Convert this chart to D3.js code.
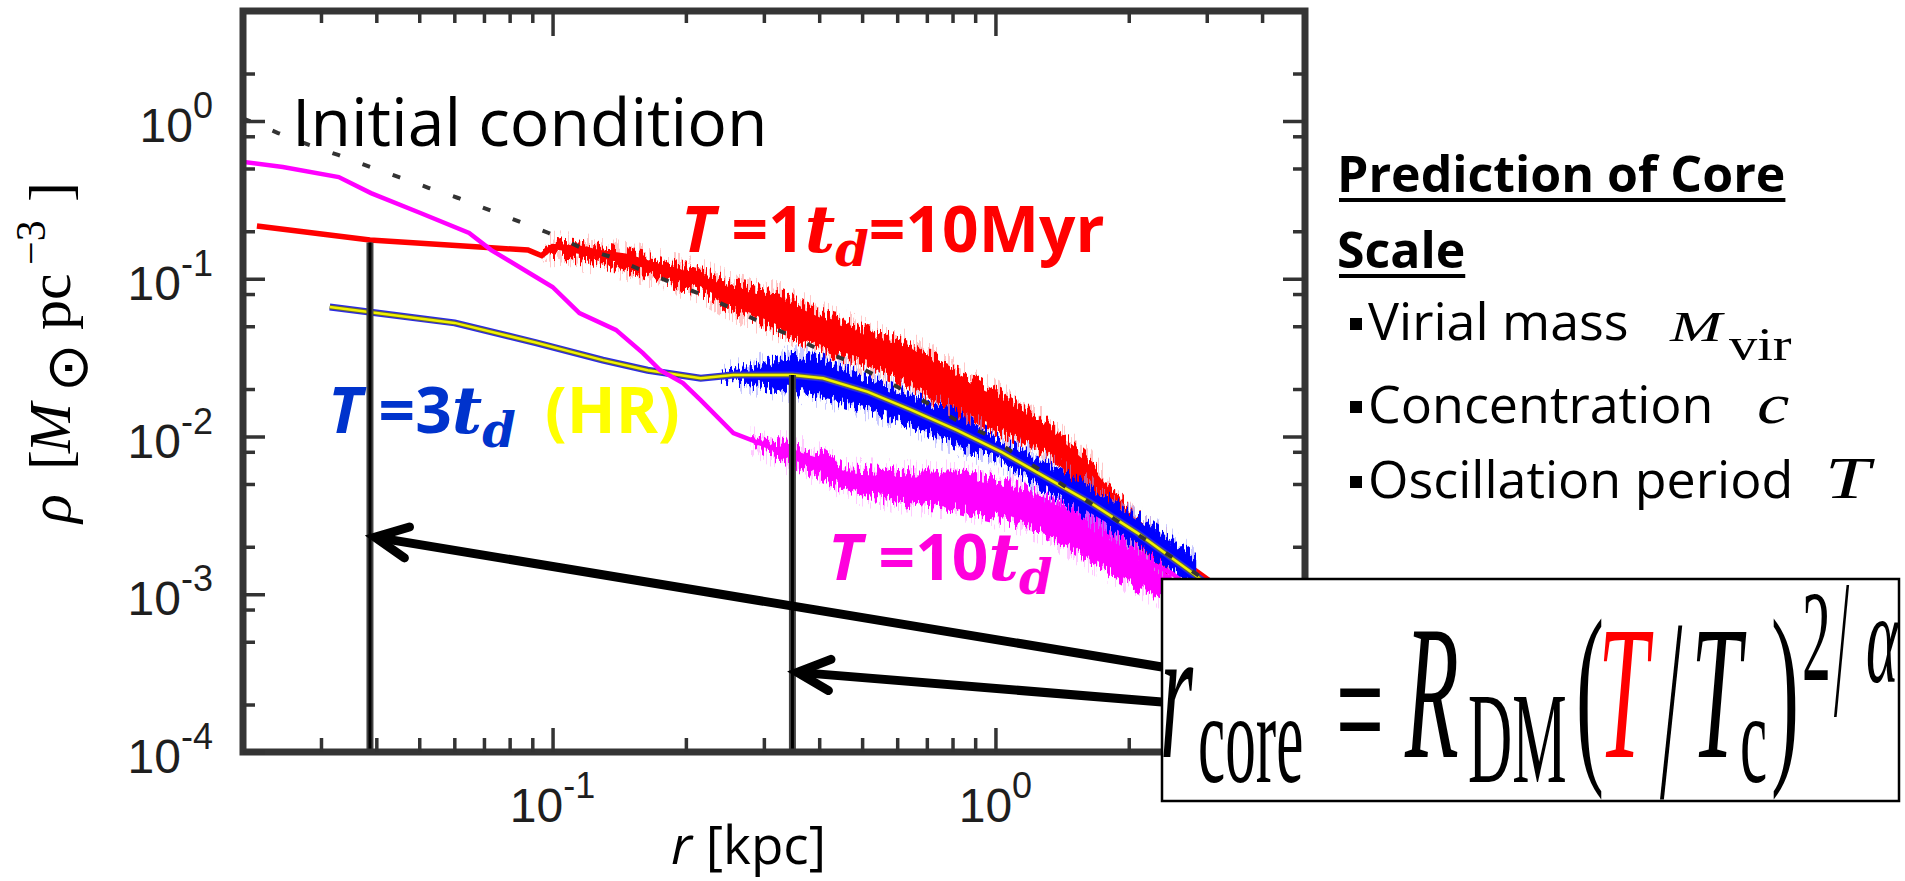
<!DOCTYPE html>
<html><head><meta charset="utf-8">
<script src="https://cdn.jsdelivr.net/npm/d3@7"></script>
<style>html,body{margin:0;padding:0;background:#fff;overflow:hidden}</style>
</head><body>
<svg id="c" width="1905" height="881"></svg>
<script>
// ---------------- data ----------------
const initR   = [0.02, 0.024, 0.0282, 0.0328, 0.0383, 0.045, 0.0526, 0.0612, 0.098, 0.115, 0.136, 0.158, 0.184, 0.213, 0.25, 0.288, 0.334, 0.394, 0.46, 0.534, 0.62, 0.71, 0.816, 0.94, 1.44, 2.62, 3.3];
const initRho = [1.04, 0.839, 0.705, 0.609, 0.518, 0.441, 0.376, 0.325, 0.195, 0.159, 0.137, 0.114, 0.0954, 0.0811, 0.0662, 0.0548, 0.0453, 0.0363, 0.0305, 0.0245, 0.0197, 0.016, 0.0127, 0.0105, 0.0048, 0.00158, 0.0010];

const redR   = [0.0215, 0.0387, 0.0727, 0.088, 0.0945, 0.1, 0.117, 0.128, 0.146, 0.184, 0.216, 0.256, 0.327, 0.408, 0.515, 0.647, 0.816, 1.03, 1.30, 1.64, 1.98, 2.84, 4.0];
const redRho = [0.216, 0.176, 0.157, 0.152, 0.140, 0.16, 0.155, 0.146, 0.139, 0.114, 0.102, 0.0757, 0.0606, 0.0453, 0.0364, 0.0284, 0.0188, 0.0141, 0.0098, 0.005, 0.0029, 0.0014, 0.0007];
const redBandR = [0.095, 0.1, 0.128, 0.16, 0.184, 0.216, 0.256, 0.327, 0.408, 0.515, 0.647, 0.816, 1.03, 1.30, 1.64, 1.98, 2.5];
const redHi    = [0.142, 0.172, 0.159, 0.141, 0.126, 0.114, 0.094, 0.0813, 0.0606, 0.0474, 0.0393, 0.0263, 0.0188, 0.0127, 0.0071, 0.0037, 0.0021];
const redLo    = [0.136, 0.142, 0.124, 0.108, 0.0930, 0.0820, 0.0620, 0.0460, 0.0345, 0.0280, 0.0207, 0.0135, 0.0105, 0.0077, 0.0040, 0.0022, 0.0014];

const hrR   = [0.0314, 0.0601, 0.0915, 0.1299, 0.164, 0.216, 0.256, 0.348, 0.408, 0.515, 0.647, 0.816, 1.03, 1.30, 1.64, 2.09, 2.84, 4.0];
const hrRho = [0.0662, 0.0525, 0.0394, 0.0305, 0.0263, 0.0234, 0.0245, 0.0245, 0.0234, 0.0192, 0.0147, 0.011, 0.0080, 0.0055, 0.0038, 0.00245, 0.00131, 0.0006];
const blueBandR = [0.24, 0.30, 0.348, 0.408, 0.515, 0.647, 0.816, 1.03, 1.30, 1.64, 2.09, 2.84];
const blueHi    = [0.0250, 0.0292, 0.0325, 0.0312, 0.0235, 0.0183, 0.0141, 0.0095, 0.0069, 0.0048, 0.0032, 0.0017];
const blueLo    = [0.0232, 0.0206, 0.0193, 0.0178, 0.0147, 0.0118, 0.0088, 0.0069, 0.0045, 0.0030, 0.0020, 0.0011];

const magR   = [0.02, 0.0246, 0.0329, 0.0389, 0.0503, 0.0648, 0.0727, 0.0915, 0.1, 0.115, 0.139, 0.16, 0.175, 0.197, 0.216, 0.256, 0.337, 0.408, 0.515, 0.647, 0.816, 1.03, 1.30, 1.64, 2.08, 2.49, 3.2];
const magRho = [0.55, 0.511, 0.441, 0.349, 0.261, 0.195, 0.152, 0.103, 0.0887, 0.0606, 0.0474, 0.0338, 0.0263, 0.0218, 0.017, 0.0105, 0.0078, 0.0064, 0.0053, 0.0047, 0.0044, 0.0041, 0.0034, 0.00245, 0.00172, 0.00137, 0.0008];
const magBandR = [0.28, 0.337, 0.408, 0.457, 0.515, 0.647, 0.816, 1.03, 1.30, 1.64, 2.08, 2.5];
const magHi    = [0.0098, 0.0092, 0.0078, 0.0063, 0.0062, 0.0060, 0.0060, 0.0053, 0.0042, 0.0032, 0.0021, 0.0017];
const magLo    = [0.0090, 0.0068, 0.0055, 0.0046, 0.0042, 0.0037, 0.0035, 0.0030, 0.0024, 0.0016, 0.0011, 0.0009];

const coreR      = [0.0387, 0.348];
const coreRhoTop = [0.17, 0.0245];
const arrowTipRho = [0.0023, 0.00032];

const xMajorTicks = [0.1, 1];
const xMinorTicks = [0.03,0.04,0.05,0.06,0.07,0.08,0.09,0.2,0.3,0.4,0.5,0.6,0.7,0.8,0.9,2,3,4];
const yMajorTicks = [1e-4, 1e-3, 1e-2, 1e-1, 1];
const yMinorTicks = [2e-4,5e-4,8e-4,2e-3,5e-3,8e-3,2e-2,5e-2,8e-2,0.2,0.5,0.8,2];
const xTickExp = ["-1", "0"];
const yTickExp = ["-4", "-3", "-2", "-1", "0"];

// ---------------- setup ----------------
const svg = d3.select("#c");
const x = d3.scaleLog().domain([0.02, 5]).range([243, 1305]);
const y = d3.scaleLog().domain([1e-4, 5]).range([752, 752 - Math.log10(5 / 1e-4) * 157.75]);
const defs = svg.append("defs");
defs.append("clipPath").attr("id", "plotClip").append("rect")
  .attr("x", 246).attr("y", 14).attr("width", 1056).attr("height", 735);
defs.append("clipPath").attr("id", "boxClip").append("rect")
  .attr("x", 1163).attr("y", 580).attr("width", 735).attr("height", 220);

function jagFilter(id, scale, freq, seed) {
  const f = defs.append("filter").attr("id", id)
    .attr("x", "-3%").attr("y", "-40%").attr("width", "106%").attr("height", "180%");
  f.append("feTurbulence").attr("type", "fractalNoise").attr("baseFrequency", freq)
    .attr("numOctaves", 2).attr("seed", seed).attr("result", "noise");
  const ct = f.append("feComponentTransfer").attr("in", "noise").attr("result", "n2");
  ct.append("feFuncR").attr("type", "linear").attr("slope", 0).attr("intercept", 0.5);
  ct.append("feFuncG").attr("type", "linear").attr("slope", 3).attr("intercept", -1);
  f.append("feDisplacementMap").attr("in", "SourceGraphic").attr("in2", "n2")
    .attr("scale", scale).attr("xChannelSelector", "R").attr("yChannelSelector", "G");
}
jagFilter("jagS", 12, "0.4 0.03", 3);
jagFilter("jagL", 24, "0.5 0.03", 11);

const line = d3.line().x(d => x(d[0])).y(d => y(d[1]));
const area = d3.area().x(d => x(d[0])).y0(d => y(d[1])).y1(d => y(d[2]));

const plot = svg.append("g").attr("clip-path", "url(#plotClip)");

function band(R, lo, hi, core, halo) {
  const data = d3.zip(R, lo, hi);
  plot.append("path").attr("d", area(data)).attr("fill", halo).attr("opacity", 0.55).attr("filter", "url(#jagL)");
  plot.append("path").attr("d", area(data)).attr("fill", core).attr("filter", "url(#jagS)");
}

band(magBandR, magLo, magHi, "#ff00ff", "#ffa0ff");
band(redBandR, redLo, redHi, "#ff0000", "#ff9a9a");
plot.append("path").attr("d", line(d3.zip(redR, redRho))).attr("fill", "none").attr("stroke", "#ff0000").attr("stroke-width", 5.5);
band(blueBandR, blueLo, blueHi, "#0000ff", "#a0a0ff");
plot.append("path").attr("d", line(d3.zip(hrR, hrRho))).attr("fill", "none").attr("stroke", "#2a2ae6").attr("stroke-width", 7);
plot.append("path").attr("d", line(d3.zip(hrR, hrRho))).attr("fill", "none").attr("stroke", "#66663c").attr("stroke-width", 4.5);
plot.append("path").attr("d", line(d3.zip(hrR, hrRho))).attr("fill", "none").attr("stroke", "#f2f200").attr("stroke-width", 2.5);
plot.append("path").attr("d", line(d3.zip(magR, magRho))).attr("fill", "none").attr("stroke", "#ff00ff").attr("stroke-width", 4.5);
plot.append("path").attr("d", line(d3.zip(initR, initRho))).attr("fill", "none").attr("stroke", "#333")
  .attr("stroke-width", 4).attr("stroke-dasharray", "8 24");

coreR.forEach((r, i) => {
  plot.append("line").attr("x1", x(r)).attr("x2", x(r)).attr("y1", y(coreRhoTop[i])).attr("y2", y(1e-4))
    .attr("stroke", "#444").attr("stroke-width", 7);
  plot.append("line").attr("x1", x(r)).attr("x2", x(r)).attr("y1", y(coreRhoTop[i])).attr("y2", y(1e-4))
    .attr("stroke", "#000").attr("stroke-width", 3);
});

// ---------------- frame & ticks ----------------
svg.append("rect").attr("x", 243).attr("y", 11).attr("width", 1062).attr("height", 741)
  .attr("fill", "none").attr("stroke", "#353535").attr("stroke-width", 7);
function ticks(axis, vals, size, tr) {
  const g = svg.append("g").attr("transform", tr)
    .call(axis.tickValues(vals).tickSize(size).tickFormat(() => ""));
  g.select(".domain").remove();
  g.selectAll(".tick line").attr("stroke", "#333").attr("stroke-width", 3.5);
}
ticks(d3.axisBottom(x), xMajorTicks, -24, "translate(0,752)");
ticks(d3.axisBottom(x), xMinorTicks, -14, "translate(0,752)");
ticks(d3.axisTop(x), xMajorTicks, -25, "translate(0,11)");
ticks(d3.axisTop(x), xMinorTicks, -12, "translate(0,11)");
ticks(d3.axisLeft(y), yMajorTicks, -22, "translate(243,0)");
ticks(d3.axisLeft(y), yMinorTicks, -12, "translate(243,0)");
ticks(d3.axisRight(y), yMajorTicks, -22, "translate(1305,0)");
ticks(d3.axisRight(y), yMinorTicks, -12, "translate(1305,0)");

yMajorTicks.forEach((v, i) => {
  const t = svg.append("text").attr("x", 213).attr("y", y(v) + 21).attr("text-anchor", "end")
    .attr("font-family", "Liberation Sans").attr("font-size", 48).attr("fill", "#1e1e1e");
  t.append("tspan").text("10");
  t.append("tspan").attr("dy", -24).attr("font-size", 36).text(yTickExp[i]);
});
xMajorTicks.forEach((v, i) => {
  const t = svg.append("text").attr("x", x(v)).attr("y", 822).attr("text-anchor", "middle")
    .attr("font-family", "Liberation Sans").attr("font-size", 48).attr("fill", "#1e1e1e");
  t.append("tspan").text("10");
  t.append("tspan").attr("dy", -24).attr("font-size", 36).text(xTickExp[i]);
});

const xt = svg.append("text").attr("x", 671).attr("y", 864).attr("font-family", "Open Sans")
  .attr("font-size", 53).attr("fill", "#000");
xt.append("tspan").attr("font-style", "italic").text("r");
xt.append("tspan").text(" [kpc]");

const yt = svg.append("g").attr("transform", "translate(70,0) rotate(-90)");
function yPiece(s, u, v, F, fam, ital) {
  yt.append("text").attr("x", u).attr("y", v).attr("font-family", fam).attr("font-size", F)
    .attr("font-style", ital ? "italic" : "normal").attr("fill", "#000").text(s);
}
yPiece("ρ", -523, 0, 60, "Liberation Serif", true);
yPiece("[", -470, 0, 60, "Liberation Serif", false);
yPiece("M", -453, 0, 60, "Liberation Serif", true);
yPiece("⊙", -392, 17, 58, "DejaVu Sans", false);
yPiece("pc", -330, 0, 60, "Liberation Serif", false);
yPiece("−3", -265, -25, 42, "Liberation Serif", false);
yPiece("]", -202, 0, 60, "Liberation Serif", false);

// ---------------- in-plot labels ----------------
svg.append("text").attr("x", 292).attr("y", 146).attr("font-family", "Open Sans")
  .attr("font-size", 66).attr("fill", "#000").text("Initial condition");

function tLabel(x0, base, color, num) {
  const t = svg.append("text").attr("x", x0).attr("y", base).attr("font-family", "Open Sans")
    .attr("font-weight", "bold").attr("font-size", 64).attr("fill", color);
  t.append("tspan").attr("font-style", "italic").text("T");
  t.append("tspan").text(" =" + num);
  t.append("tspan").attr("font-family", "DejaVu Serif").attr("font-style", "italic").attr("font-size", 66).text("t");
  t.append("tspan").attr("font-family", "DejaVu Serif").attr("font-style", "italic").attr("font-size", 48).attr("dy", 14).text("d");
  return t;
}
const rl = tLabel(681, 252, "#ff0000", "1");
rl.append("tspan").attr("dy", -14).text("=10Myr");
tLabel(328, 433, "#0033cc", "3");
svg.append("text").attr("x", 545).attr("y", 433).attr("font-family", "Open Sans").attr("font-weight", "bold")
  .attr("font-size", 64).attr("fill", "#ffff00").text("(HR)");
tLabel(828, 580, "#ff00dd", "10");

// ---------------- arrows ----------------
const arrowStart = [[1162, 667], [1162, 702]];
coreR.forEach((r, i) => {
  const tx = x(r) + 5, ty = y(arrowTipRho[i]);
  const [sx, sy] = arrowStart[i];
  const ang = Math.atan2(sy - ty, sx - tx);
  svg.append("line").attr("x1", sx).attr("y1", sy).attr("x2", tx + 4 * Math.cos(ang)).attr("y2", ty + 4 * Math.sin(ang))
    .attr("stroke", "#000").attr("stroke-width", 9);
  const L = 36, a = 0.45;
  const p = `M${tx + L * Math.cos(ang - a)},${ty + L * Math.sin(ang - a)} L${tx},${ty} L${tx + L * Math.cos(ang + a)},${ty + L * Math.sin(ang + a)}`;
  svg.append("path").attr("d", p).attr("fill", "none").attr("stroke", "#000").attr("stroke-width", 9)
    .attr("stroke-linecap", "round").attr("stroke-linejoin", "miter");
});

// ---------------- formula box ----------------
svg.append("rect").attr("x", 1162).attr("y", 579).attr("width", 737).attr("height", 222)
  .attr("fill", "#fff").attr("stroke", "#000").attr("stroke-width", 2.5);
const fg = svg.append("g").attr("clip-path", "url(#boxClip)");
function glyph(s, x0, base, F, sx, sy, ital, color) {
  fg.append("text").attr("transform", `translate(${x0},${base}) scale(${sx},${sy})`)
    .attr("font-family", "Liberation Serif").attr("font-size", F)
    .attr("font-style", ital ? "italic" : "normal").attr("fill", color || "#000").text(s);
}
glyph("r", 1160, 757, 100, 0.85, 1.9, true);
glyph("core", 1198, 782, 68, 0.9, 1.9, false);
glyph("=", 1336, 766, 100, 0.85, 1.7, false);
glyph("R", 1405, 757, 100, 0.88, 1.9, true);
glyph("DM", 1468, 782, 68, 0.9, 1.9, false);
glyph("(", 1576, 757, 105, 0.8, 1.9, false);
glyph("T", 1598, 757, 100, 0.9, 1.9, true, "#ff0000");
glyph("/", 1660, 797, 100, 0.8, 2.6, false);
glyph("T", 1691, 757, 100, 0.9, 1.9, true);
glyph("c", 1740, 782, 68, 0.9, 1.9, false);
glyph(")", 1771, 757, 105, 0.8, 1.9, false);
glyph("2", 1802, 680, 68, 0.85, 1.9, false);
glyph("/", 1834, 715, 68, 0.8, 2.9, false);
glyph("α", 1866, 682, 68, 0.9, 1.9, true);

// ---------------- right panel ----------------
const headings = ["Prediction of Core", "Scale"];
const headBase = [192, 268];
headings.forEach((h, i) => {
  const t = svg.append("text").attr("x", 1337).attr("y", headBase[i]).attr("font-family", "Open Sans")
    .attr("font-weight", "bold").attr("font-size", 50).attr("fill", "#000").text(h);
  const w = t.node().getComputedTextLength();
  svg.append("line").attr("x1", 1339).attr("x2", 1337 + w).attr("y1", headBase[i] + 8).attr("y2", headBase[i] + 8)
    .attr("stroke", "#000").attr("stroke-width", 4);
});
const bullets = ["Virial mass", "Concentration", "Oscillation period"];
const bulBase = [340, 423, 498];
bullets.forEach((b, i) => {
  svg.append("rect").attr("x", 1350).attr("y", bulBase[i] - 22).attr("width", 12).attr("height", 12).attr("fill", "#000");
  svg.append("text").attr("x", 1368).attr("y", bulBase[i]).attr("font-family", "Open Sans")
    .attr("font-size", 52).attr("fill", "#000").text(b);
});
function mglyph(s, x0, base, F, sx, sy, ital) {
  svg.append("text").attr("transform", `translate(${x0},${base}) scale(${sx},${sy})`)
    .attr("font-family", "Liberation Serif").attr("font-size", F)
    .attr("font-style", ital ? "italic" : "normal").attr("fill", "#000").text(s);
}
mglyph("M", 1670, 341, 48, 1.3, 0.9, true);
mglyph("vir", 1729, 360, 47, 1.2, 1.0, false);
mglyph("c", 1757, 423, 52, 1.4, 1.1, true);
mglyph("T", 1825, 498, 54, 1.5, 1.1, true);
</script>
</body></html>
